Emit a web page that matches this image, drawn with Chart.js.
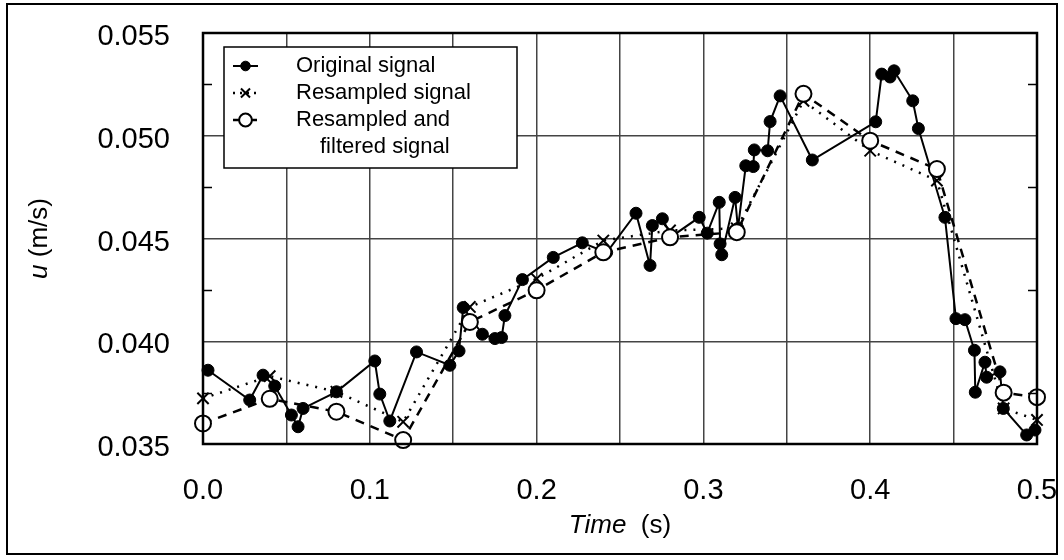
<!DOCTYPE html>
<html>
<head>
<meta charset="utf-8">
<title>u(t)</title>
<script src="https://cdn.jsdelivr.net/npm/chart.js@4.4.1/dist/chart.umd.min.js"></script>
<style>
    html, body { margin: 0; padding: 0; background: #fff; }
    #wrap { width: 1064px; height: 560px; }
</style>
</head>
<body>
<div id="wrap"><canvas id="grafico" width="1064" height="560"></canvas></div>
<script>

// original (irregularly sampled) signal
let origTime = [0.003, 0.028, 0.036, 0.043, 0.053, 0.057, 0.060, 0.080, 0.103, 0.106,
    0.112, 0.128, 0.148, 0.1535, 0.156, 0.1675, 0.175, 0.179, 0.181, 0.1915,
    0.210, 0.2274, 0.242, 0.2596, 0.268, 0.2694, 0.2754, 0.281, 0.2975, 0.3023,
    0.3095, 0.310, 0.311, 0.319, 0.3207, 0.3254, 0.3299, 0.3305, 0.3385, 0.340,
    0.346, 0.3653, 0.4033, 0.4069, 0.4119, 0.4143, 0.4255, 0.4289, 0.4448, 0.4514,
    0.4568, 0.4625, 0.4630, 0.4688, 0.4698, 0.4778, 0.4798, 0.4938, 0.4988];
let origU = [0.03859, 0.03714, 0.03835, 0.03782, 0.03641, 0.03584, 0.03673, 0.03754, 0.03904, 0.03743,
    0.03612, 0.03948, 0.03883, 0.03953, 0.04164, 0.04034, 0.04013, 0.04018, 0.04125, 0.04300,
    0.04408, 0.04479, 0.04432, 0.04623, 0.04369, 0.04563, 0.04596, 0.04510, 0.04603, 0.04526,
    0.04676, 0.04474, 0.04421, 0.04700, 0.04549, 0.04854, 0.04850, 0.04931, 0.04927, 0.05069,
    0.05194, 0.04882, 0.05068, 0.05300, 0.05286, 0.05316, 0.05170, 0.05035, 0.04603, 0.04110,
    0.04105, 0.03956, 0.03752, 0.03898, 0.03825, 0.03851, 0.03673, 0.03544, 0.03568];

// resampled every 0.04 s (plus end point)
let resTime = [0.00, 0.04, 0.08, 0.12, 0.16, 0.20, 0.24, 0.28, 0.32, 0.36, 0.40, 0.44, 0.48, 0.50];
let resU = [0.03722, 0.03830, 0.03754, 0.03608, 0.04167, 0.04304, 0.04490, 0.04539, 0.04549, 0.05170,
    0.04927, 0.04782, 0.03673, 0.03617];
let filtU = [0.03600, 0.03720, 0.03657, 0.03519, 0.04094, 0.04248, 0.04433, 0.04506, 0.04531, 0.05204,
    0.04976, 0.04838, 0.03750, 0.03728];

let yTicks = [0.035, 0.040, 0.045, 0.050, 0.055];
let yMinorTicks = [0.0375, 0.0425, 0.0475, 0.0525];
let xTicks = [0.0, 0.1, 0.2, 0.3, 0.4, 0.5];

let legendLabels = [["Original signal"], ["Resampled signal"], ["Resampled and", "filtered signal"]];

const FONT = "'Liberation Sans', Arial, Helvetica, sans-serif";

function pairs(xs, ys) {
    return xs.map((x, i) => ({ x: x, y: ys[i] }));
}

// outer frame, plot box and the small inward ticks on both y borders
const framePlugin = {
    id: 'frame',
    afterDraw(chart) {
        const ctx = chart.ctx;
        const a = chart.chartArea;
        const y = chart.scales.y;
        ctx.save();
        ctx.strokeStyle = '#000';
        ctx.lineWidth = 2;
        ctx.strokeRect(7, 4, 1050, 550);
        ctx.lineWidth = 2.5;
        ctx.strokeRect(a.left, a.top, a.right - a.left, a.bottom - a.top);
        ctx.lineWidth = 1.5;
        yMinorTicks.forEach(v => {
            let py = Math.round(y.getPixelForValue(v)) + 0.5;
            ctx.beginPath();
            ctx.moveTo(a.left, py); ctx.lineTo(a.left + 9, py);
            ctx.moveTo(a.right, py); ctx.lineTo(a.right - 9, py);
            ctx.stroke();
        });
        ctx.restore();
    }
};

// axis titles, with the italic symbol parts
const titlesPlugin = {
    id: 'titles',
    afterDraw(chart) {
        const ctx = chart.ctx;
        const a = chart.chartArea;
        ctx.save();
        ctx.fillStyle = '#000';
        ctx.textBaseline = 'middle';

        let it = "italic 26px " + FONT, rm = "26px " + FONT;
        ctx.font = it; let w1 = ctx.measureText("Time").width;
        ctx.font = rm; let w2 = ctx.measureText("  (s)").width;
        let x0 = (a.left + a.right) / 2 - (w1 + w2) / 2;
        ctx.textAlign = 'left';
        ctx.font = it; ctx.fillText("Time", x0, 526);
        ctx.font = rm; ctx.fillText("  (s)", x0 + w1, 526);

        ctx.translate(40, (a.top + a.bottom) / 2);
        ctx.rotate(-Math.PI / 2);
        ctx.font = it; let u1 = ctx.measureText("u").width;
        ctx.font = rm; let u2 = ctx.measureText(" (m/s)").width;
        let s = -(u1 + u2) / 2;
        ctx.font = it; ctx.fillText("u", s, 0);
        ctx.font = rm; ctx.fillText(" (m/s)", s + u1, 0);
        ctx.restore();
    }
};

// boxed legend in the upper left corner of the plot
const boxLegend = {
    id: 'boxLegend',
    afterDatasetsDraw(chart) {
        const ctx = chart.ctx;
        ctx.save();
        ctx.fillStyle = '#fff';
        ctx.fillRect(224, 47, 293, 121);
        ctx.strokeStyle = '#000';
        ctx.lineWidth = 1.5;
        ctx.strokeRect(224, 47, 293, 121);

        let rows = [66, 93, 120];
        chart.data.datasets.forEach((ds, i) => {
            let cy = rows[i];
            ctx.save();
            ctx.strokeStyle = '#000';
            ctx.lineWidth = ds.borderWidth;
            ctx.setLineDash(i === 1 ? [2, 5] : (i === 2 ? [6, 12] : []));
            ctx.beginPath();
            ctx.moveTo(233, cy); ctx.lineTo(258, cy);
            ctx.stroke();
            ctx.setLineDash([]);
            ctx.fillStyle = ds.pointBackgroundColor;
            ctx.lineWidth = ds.pointBorderWidth;
            Chart.helpers.drawPoint(ctx, {
                pointStyle: ds.pointStyle,
                radius: ds.pointRadius * 0.8,
                borderWidth: ds.pointBorderWidth,
                rotation: 0
            }, 245.5, cy);
            ctx.restore();

            ctx.fillStyle = '#000';
            ctx.font = "22px " + FONT;
            ctx.textBaseline = 'middle';
            legendLabels[i].forEach((t, k) => {
                ctx.fillText(t, k === 0 ? 296 : 320, cy + k * 27);
            });
        });
        ctx.restore();
    }
};

let grafico = new Chart(document.getElementById("grafico"), {
    type: "line",
    data: {
        datasets: [
            {
                label: "Original signal",
                data: pairs(origTime, origU),
                borderColor: "#000",
                borderWidth: 2,
                pointStyle: "circle",
                pointRadius: 6,
                pointBackgroundColor: "#000",
                pointBorderColor: "#000",
                pointBorderWidth: 1,
                order: 2,
                clip: false
            },
            {
                label: "Resampled signal",
                data: pairs(resTime, resU),
                borderColor: "#000",
                borderWidth: 2.5,
                borderDash: [2, 7],
                pointStyle: "crossRot",
                pointRadius: 8,
                pointBackgroundColor: "#000",
                pointBorderColor: "#000",
                pointBorderWidth: 2,
                order: 1,
                clip: false
            },
            {
                label: "Resampled and filtered signal",
                data: pairs(resTime, filtU),
                borderColor: "#000",
                borderWidth: 2.5,
                borderDash: [9, 7],
                pointStyle: "circle",
                pointRadius: 8,
                pointBackgroundColor: "#fff",
                pointBorderColor: "#000",
                pointBorderWidth: 2,
                order: 0,
                clip: false
            }
        ]
    },
    options: {
        responsive: false,
        animation: false,
        devicePixelRatio: 1,
        layout: { padding: { top: 33, right: 27, left: 0, bottom: 0 } },
        scales: {
            x: {
                type: "linear",
                min: 0,
                max: 0.5,
                afterFit: s => { s.height = 116; s.paddingLeft = 0; s.paddingRight = 0; },
                ticks: {
                    stepSize: 0.05,
                    maxRotation: 0,
                    autoSkip: false,
                    padding: 30,
                    color: "#000",
                    font: { family: FONT, size: 29 },
                    callback: v => {
                        let lab = xTicks.find(t => Math.abs(t - v) < 1e-6);
                        return lab === undefined ? "" : lab.toFixed(1);
                    }
                },
                grid: { color: "#444", lineWidth: 1.5, drawTicks: false },
                border: { display: false }
            },
            y: {
                type: "linear",
                min: 0.035,
                max: 0.055,
                afterFit: s => { s.width = 203; s.paddingTop = 0; s.paddingBottom = 0; },
                ticks: {
                    stepSize: 0.005,
                    padding: 33,
                    labelOffset: 4,
                    color: "#000",
                    font: { family: FONT, size: 29 },
                    callback: v => {
                        let lab = yTicks.find(t => Math.abs(t - v) < 1e-7);
                        return lab === undefined ? "" : lab.toFixed(3);
                    }
                },
                grid: { color: "#444", lineWidth: 1.5, drawTicks: false },
                border: { display: false }
            }
        },
        plugins: {
            legend: { display: false },
            tooltip: { enabled: false }
        }
    },
    plugins: [boxLegend, framePlugin, titlesPlugin]
});
</script>
</body>
</html>
